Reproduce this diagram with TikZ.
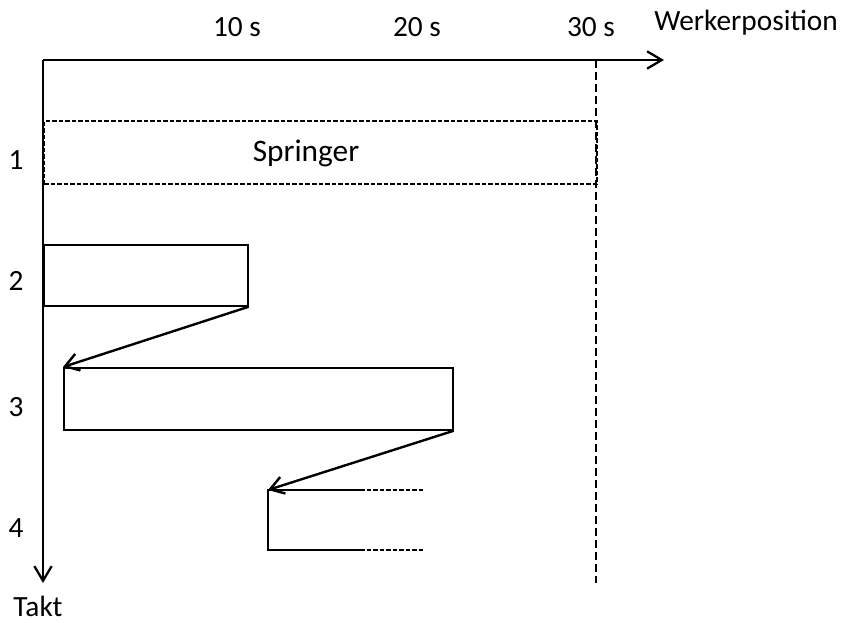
\documentclass[tikz,border=0pt]{standalone}
\usepackage{fontspec}
\setmainfont{Carlito}
\usetikzlibrary{arrows.meta}
\begin{document}
\begin{tikzpicture}[x=0.75pt,y=-0.75pt,
  lbl/.style={anchor=base,inner sep=0pt,font=\fontsize{22}{26}\selectfont},
  axis/.style={line width=1.7pt,-{Straight Barb[length=11pt,width=13pt,line width=1.7pt]}},
  grid/.style={line width=1.1pt,dash pattern=on 6pt off 3pt},
  slot/.style={draw,line width=1.3pt,inner sep=0pt,anchor=north west},
  slotdash/.style={slot,line width=1.7pt,dash pattern=on 3.4pt off 1.5pt},
  walk/.style={line width=1.8pt,-{Straight Barb[length=10pt,width=13pt,line width=1.8pt]}},
  tail/.style={line width=1.3pt},
  taildash/.style={line width=1.7pt,dash pattern=on 3.4pt off 1.5pt}]
\useasboundingbox (0,0) rectangle (847,623);

% axes
\coordinate (o) at (43,60);
\coordinate (xend) at (664,60);
\coordinate (yend) at (43,583);
\coordinate (ctop) at (596,60);
\coordinate (cbot) at (596,583);
\draw[grid] (ctop) -- (cbot);
\draw[axis] (o) -- (xend);
\draw[axis] (o) -- (yend);

% axis labels
\node[lbl] (t10) at (237,37) {10 s};
\node[lbl] (t20) at (417,37) {20 s};
\node[lbl] (t30) at (591,37) {30 s};
\node[lbl] (wp) at (746,31) {Werkerposition};
\node[lbl] (takt) at (38,617) {Takt};
\node[lbl] (k1) at (16,170) {1};
\node[lbl] (k2) at (16,291) {2};
\node[lbl] (k3) at (16,417) {3};
\node[lbl] (k4) at (16,538) {4};

% cycle 1: jumper
\node[slotdash,minimum width=414.75pt,minimum height=47.25pt] (r1) at (43,120) {};
\node[lbl,font=\fontsize{23.5}{28}\selectfont] (spr) at (306,162) {Springer};

% cycle 2 and 3
\node[slot,minimum width=153pt,minimum height=45.75pt] (r2) at (43,244) {};
\node[slot,minimum width=291.75pt,minimum height=46.5pt] (r3) at (63,367) {};

% cycle 4 (open towards the right)
\coordinate (a) at (268,490);
\coordinate (b) at (268,550);
\coordinate (a1) at (360,490);
\coordinate (b1) at (360,550);
\coordinate (a2) at (423,490);
\coordinate (b2) at (423,550);
\draw[tail] (a1) -- (a) -- (b) -- (b1);
\draw[taildash] (a1) -- (a2);
\draw[taildash] (b1) -- (b2);

% worker walks back
\draw[walk] (r2.south east) -- (r3.north west);
\draw[walk] (r3.south east) -- (a);
\end{tikzpicture}
\end{document}
